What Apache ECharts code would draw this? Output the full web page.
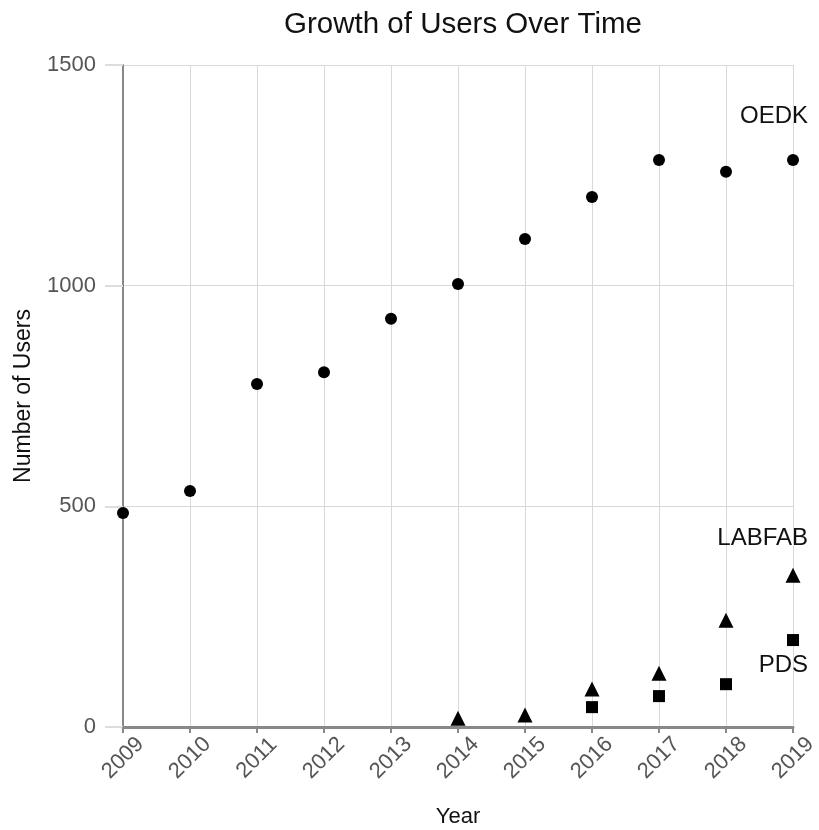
<!DOCTYPE html>
<html>
<head>
<meta charset="utf-8">
<script src="https://cdn.jsdelivr.net/npm/echarts@6/dist/echarts.min.js"></script>
<style>
html, body { margin: 0; padding: 0; background: #fff; }
#main { width: 819px; height: 830px; }
</style>
</head>
<body>
<div id="main"></div>
<script>
// 数据
var years = ['2009', '2010', '2011', '2012', '2013', '2014', '2015', '2016', '2017', '2018', '2019'];
var oedk = [485, 535, 777, 804, 925, 1004, 1106, 1201, 1285, 1258, 1285];
var labfab = [null, null, null, null, null, 20, 27, 86, 122, 242, 344];
var pds = [null, null, null, null, null, null, null, 45, 70, 97, 197];
var yTicks = [0, 500, 1000, 1500];

var font = 'Arial, "Liberation Sans", sans-serif';

// 最后一个点上标系列名
function withEndLabel(arr, name, offset) {
	return arr.map(function(v, i) {
		if (i !== arr.length - 1) return v;
		return {
			value: v,
			label: {
				show: true,
				formatter: name,
				position: 'inside',
				offset: offset,
				align: 'right',
				verticalAlign: 'middle',
				color: '#111',
				fontSize: 24,
				fontFamily: font
			}
		};
	});
}

var myChart = echarts.init(document.getElementById('main'));
var option = {
	animation: false,
	title: {
		text: 'Growth of Users Over Time',
		left: 458,
		top: 5,
		textAlign: 'center',
		textStyle: { color: '#111', fontSize: 29.5, fontWeight: 'normal', fontFamily: font }
	},
	grid: { left: 123, right: 26, top: 65, bottom: 103, containLabel: false, outerBoundsMode: 'none' },
	xAxis: {
		type: 'category',
		data: years,
		boundaryGap: false,
		name: 'Year',
		nameLocation: 'middle',
		nameGap: 79,
		nameTextStyle: { color: '#111', fontSize: 22, fontFamily: font },
		axisLine: { lineStyle: { color: '#888', width: 3 } },
		axisTick: { show: true, length: 6, lineStyle: { color: '#888', width: 2 } },
		axisLabel: {
			rotate: 45, align: 'center', verticalAlign: 'middle',
			color: '#555', fontSize: 22, fontFamily: font, margin: 31
		},
		splitLine: { show: true, lineStyle: { color: '#d9d9d9', width: 1 } }
	},
	yAxis: {
		type: 'value',
		min: yTicks[0],
		max: yTicks[yTicks.length - 1],
		interval: 500,
		name: 'Number of Users',
		nameLocation: 'middle',
		nameGap: 88,
		nameTextStyle: { color: '#111', fontSize: 23, fontFamily: font },
		axisLine: { show: true, lineStyle: { color: '#888', width: 2 } },
		axisTick: { show: true, length: 18, lineStyle: { color: '#ddd', width: 2 } },
		axisLabel: {
			color: '#555', fontSize: 22, fontFamily: font, margin: 27,
			formatter: function(v) { return String(v); }
		},
		splitLine: { show: true, lineStyle: { color: '#d9d9d9', width: 1 } }
	},
	series: [
		{
			name: 'OEDK',
			type: 'scatter',
			symbol: 'circle',
			symbolSize: 12,
			itemStyle: { color: '#000', opacity: 1 },
			data: withEndLabel(oedk, 'OEDK', [15, -44])
		},
		{
			name: 'LABFAB',
			type: 'scatter',
			symbol: 'triangle',
			symbolSize: 15,
			itemStyle: { color: '#000', opacity: 1 },
			data: withEndLabel(labfab, 'LABFAB', [15, -37])
		},
		{
			name: 'PDS',
			type: 'scatter',
			symbol: 'rect',
			symbolSize: 12,
			itemStyle: { color: '#000', opacity: 1 },
			data: withEndLabel(pds, 'PDS', [15, 25])
		}
	]
};
myChart.setOption(option);
</script>
</body>
</html>
